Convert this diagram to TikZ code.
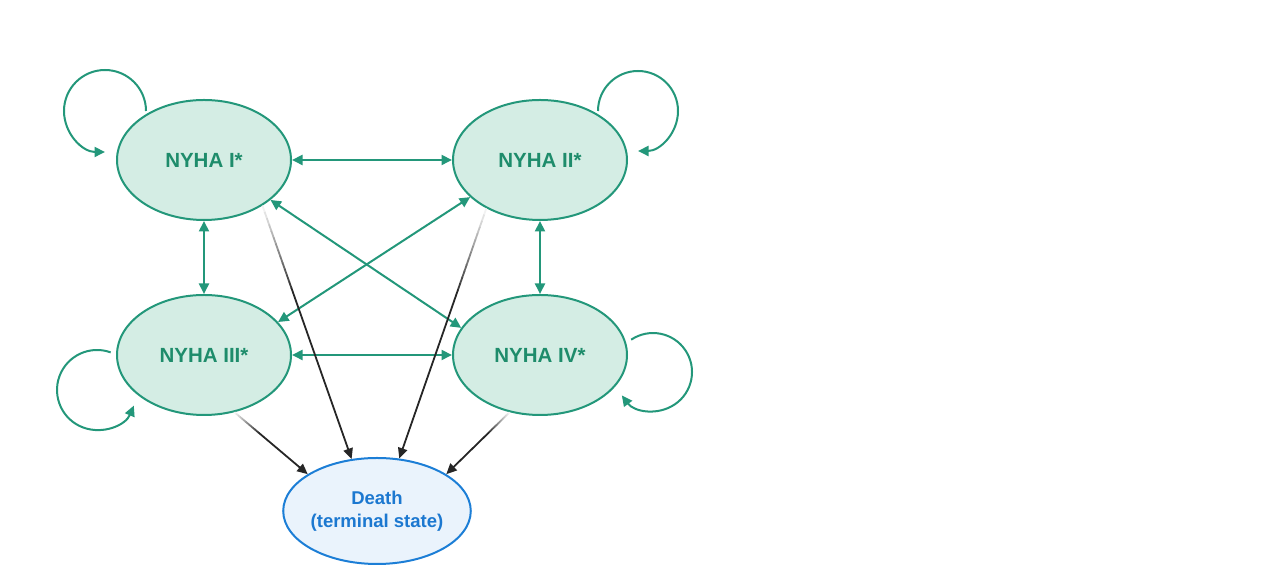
\documentclass[tikz,border=0pt]{standalone}
\usepackage{fontspec}
\setmainfont{Liberation Sans}
\usetikzlibrary{shapes.geometric,arrows.meta,calc}
\definecolor{gstroke}{HTML}{23977A}
\definecolor{gfill}{HTML}{D4EDE4}
\definecolor{gtext}{HTML}{1E8C6B}
\definecolor{bstroke}{HTML}{1C7ED6}
\definecolor{bfill}{HTML}{EAF3FC}
\definecolor{btext}{HTML}{1C78D0}
\tikzset{
  state/.style={ellipse, draw=gstroke, fill=gfill, line width=2pt, minimum width=174pt, minimum height=120pt, inner sep=0pt, text=gtext, font=\fontsize{20.5}{24}\selectfont\bfseries},
  death/.style={ellipse, draw=bstroke, fill=bfill, line width=2pt, minimum width=184pt, minimum height=106pt, inner sep=0pt, text=btext, align=center, font=\fontsize{18.5}{23}\selectfont\bfseries},
  gtip/.style={-{Triangle[length=10.5pt,width=10pt]}},
  glink/.style={draw=gstroke, line width=2pt, {Triangle[length=10.5pt,width=10pt]}-{Triangle[length=10.5pt,width=10pt]}},
  gloop/.style={draw=gstroke, line width=2pt, gtip},
  dlink/.style={draw=black!85, line width=1.8pt, -{Triangle[length=10.5pt,width=9.5pt]}},
}
\begin{document}
\begin{tikzpicture}[x=1pt,y=1pt]
\useasboundingbox (0,0) rectangle (1262,569);
\node[state] (I) at (204,409) {NYHA I*};
\node[state] (II) at (540,409) {NYHA II*};
\node[state] (III) at (204,214) {NYHA III*};
\node[state] (IV) at (540,214) {NYHA IV*};
\node[death] (D) at (377,58) {Death\\(terminal state)};

% green two-way links
\draw[glink] (I.east) -- (II.west);
\draw[glink] (III.east) -- (IV.west);
\draw[glink] (I.south) -- (III.north);
\draw[glink] (II.south) -- (IV.north);
\draw[glink] (I.-31) -- (IV.161);
\draw[glink] (II.208) -- (III.24);

% self loops
\coordinate (l1) at (146,458);
\draw[gloop] (l1) arc[start angle=0, end angle=270, radius=41];
\coordinate (l2) at (598,458);
\draw[gloop] (l2) arc[start angle=180, end angle=-90, radius=40];
\coordinate (l3) at (110.7,216.6);
\draw[gloop] (l3) arc[start angle=70, end angle=337, radius=40];
\coordinate (l4) at (631.2,229.3);
\draw[gloop] (l4) arc[start angle=124, end angle=-143, radius=39];

% fading links to death
\foreach \s/\t [count=\n] in {I.-38/D.116, II.222/D.67, III.-62/D.152, IV.242/D.28} {
  \path (\s) coordinate (a\n) (\t) coordinate (b\n);
  \foreach \k [evaluate=\k as \c using {int(5+6*\k)}] in {0,...,12} {
    \draw[draw=black!\c, line width=1.8pt] ($(a\n)!{0.025*\k}!(b\n)$) -- ($(a\n)!{0.025*\k+0.027}!(b\n)$);
  }
  \draw[dlink] ($(a\n)!0.325!(b\n)$) -- (b\n);
}
\end{tikzpicture}
\end{document}
